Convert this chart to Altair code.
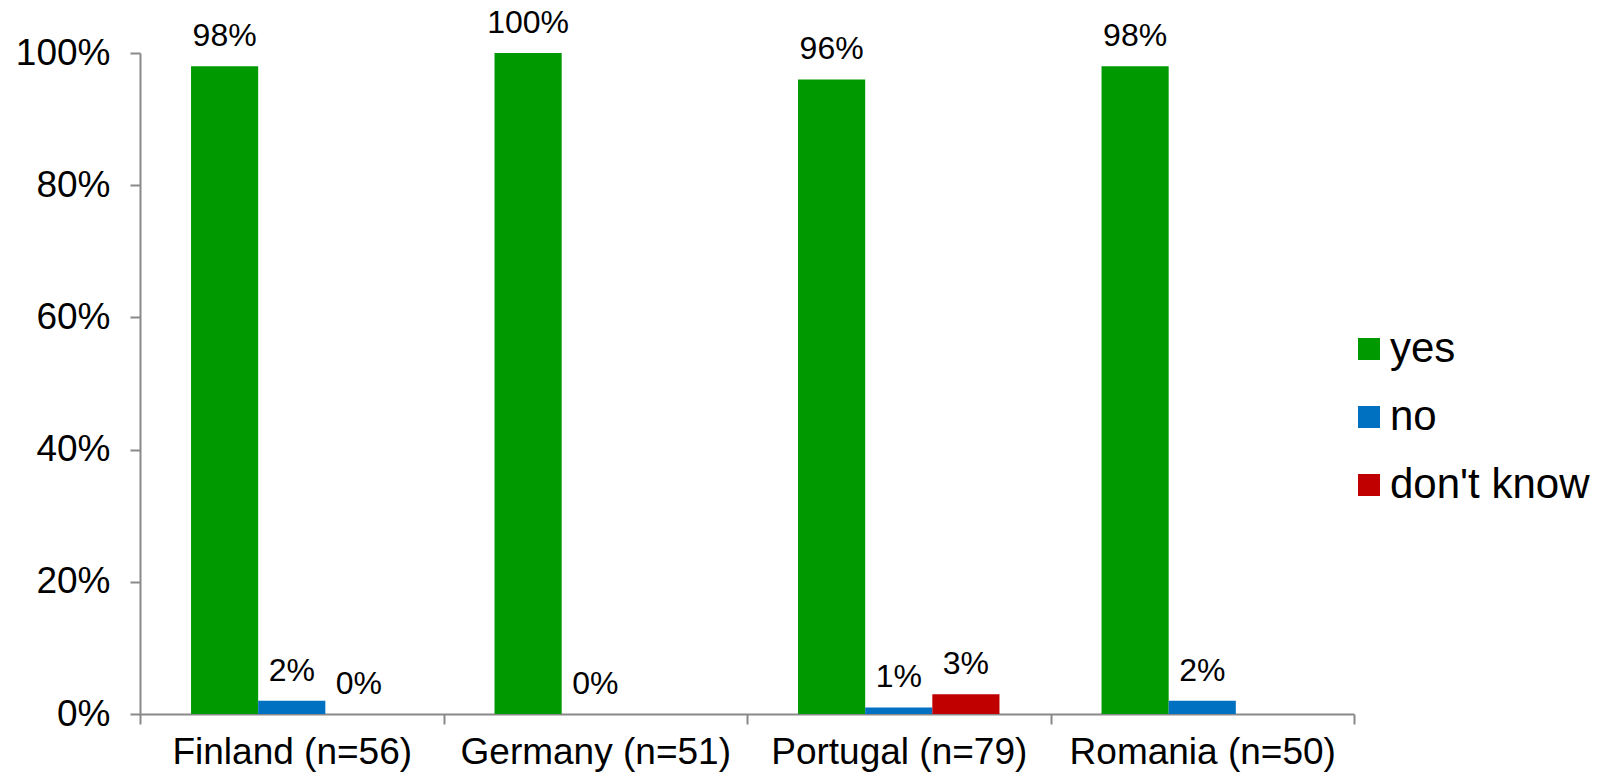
import altair as alt
import pandas as pd

countries = ["Finland (n=56)", "Germany (n=51)", "Portugal (n=79)", "Romania (n=50)"]
answers = ["yes", "no", "don't know"]
colors = ["#009900", "#0070C0", "#C00000"]

yes_vals = [0.98, 1.00, 0.96, 0.98]
no_vals = [0.02, 0.00, 0.01, 0.02]
dk_vals = [0.00, None, 0.03, None]

rows = []
for i, c in enumerate(countries):
    for a, vals in zip(answers, [yes_vals, no_vals, dk_vals]):
        if vals[i] is not None:
            rows.append({"country": c, "answer": a, "value": vals[i]})
df = pd.DataFrame(rows)

FONT = "Liberation Sans"
GRAY = "#898989"

base = alt.Chart(df).encode(
    x=alt.X(
        "country:N",
        sort=countries,
        scale=alt.Scale(paddingInner=0, paddingOuter=0),
        axis=alt.Axis(
            title=None,
            labelAngle=0,
            tickBand="extent",
            grid=False,
            domainColor=GRAY,
            domainWidth=2,
            tickColor=GRAY,
            tickWidth=2,
            tickSize=10,
            labelFontSize=37,
            labelColor="black",
            labelFont=FONT,
            labelPadding=10,
            labelLimit=0,
        ),
    ),
    xOffset=alt.XOffset(
        "answer:N",
        sort=answers,
        scale=alt.Scale(domain=answers, paddingOuter=0.76, paddingInner=0),
    ),
)

bars = base.mark_bar().encode(
    y=alt.Y(
        "value:Q",
        scale=alt.Scale(domain=[0, 1]),
        axis=alt.Axis(
            title=None,
            format=".0%",
            values=[0, 0.2, 0.4, 0.6, 0.8, 1.0],
            grid=False,
            domainColor=GRAY,
            domainWidth=2,
            tickColor=GRAY,
            tickWidth=2,
            tickSize=10,
            labelFontSize=37,
            labelColor="black",
            labelFont=FONT,
            labelPadding=20,
            labelLimit=0,
        ),
    ),
    color=alt.Color(
        "answer:N",
        sort=answers,
        scale=alt.Scale(domain=answers, range=colors),
        legend=alt.Legend(
            title=None,
            orient="none",
            legendX=1208,
            legendY=275,
            symbolType="square",
            symbolSize=484,
            symbolStrokeWidth=0,
            labelFontSize=42,
            labelFont=FONT,
            labelColor="black",
            labelOffset=0,
            labelLimit=0,
            rowPadding=26,
            padding=0,
        ),
    ),
)

labels = base.mark_text(baseline="bottom", dy=-13, fontSize=32, font=FONT, color="black").encode(
    y=alt.Y("value:Q"),
    text=alt.Text("value:Q", format=".0%"),
)

chart = (
    alt.layer(bars, labels)
    .properties(
        width=1214,
        height=661,
        background="white",
        autosize=alt.AutoSizeParams(type="none"),
        padding={"left": 140, "top": 53, "right": 245, "bottom": 62},
    )
    .configure_view(stroke="transparent", strokeWidth=0)
)

chart.save("out.html", embed_options={"renderer": "svg", "actions": False})
